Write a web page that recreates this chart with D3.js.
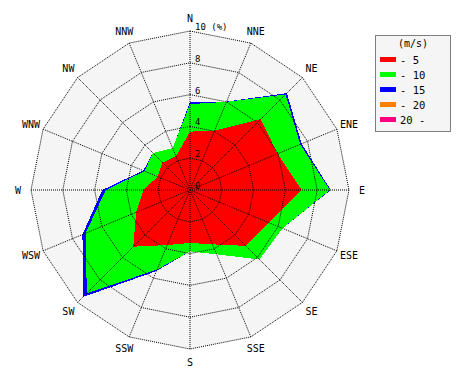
<!DOCTYPE html>
<html>
<head>
<meta charset="utf-8">
<script src="https://cdn.jsdelivr.net/npm/d3@7"></script>
<style>
  body { margin: 0; background: #fff; }
  text { font-family: "DejaVu Sans Mono", monospace; fill: #000; }
</style>
</head>
<body>
<div id="viz"></div>
<script>
/*** data ***/
const directions = ["N","NNE","NE","ENE","E","ESE","SE","SSE","S","SSW","SW","WSW","W","WNW","NW","NNW"];
const speedClasses = ["- 5", "- 10", "- 15", "- 20", "20 -"];
const classColors = ["#ff0000", "#00ff00", "#0000ff", "#ff8000", "#ff0080"];
// frequency (%) per direction, one array per speed class
const s5  = [3.67, 4.05, 6.30, 5.95, 7.02, 5.38, 4.97, 3.70, 3.33, 3.75, 5.04, 3.67, 2.93, 2.20, 2.45, 2.30];
const s10 = [1.73, 1.95, 2.20, 1.55, 1.78, 0.92, 1.21, 0.68, 0.53, 1.67, 4.14, 3.43, 2.37, 0.90, 0.85, 0.55];
const s15 = [0.13, 0.02, 0.12, 0.10, 0.05, 0.00, 0.00, 0.00, 0.00, 0.10, 0.34, 0.22, 0.22, 0.08, 0.00, 0.00];
const s20 = [0, 0, 0, 0, 0, 0, 0, 0, 0, 0, 0, 0, 0, 0, 0, 0];
const s20p = [0, 0, 0, 0, 0, 0, 0, 0, 0, 0, 0, 0, 0, 0, 0, 0];
const ringTicks = [2, 4, 6, 8, 10];

/*** layout ***/
const width = 470, height = 380;
const cx = 190, cy = 190;

const svg = d3.select("#viz").append("svg")
  .attr("width", width)
  .attr("height", height);

const r = d3.scaleLinear().domain([0, 10]).range([0, 159]);
const angle = d3.scaleLinear().domain([0, directions.length]).range([0, 2 * Math.PI]);

const g = svg.append("g").attr("transform", `translate(${cx},${cy})`);

const ring = d3.lineRadial()
  .angle((d, i) => angle(i))
  .radius(d => r(d))
  .curve(d3.curveLinearClosed);

// background
g.append("path")
  .attr("d", ring(directions.map(() => 10)))
  .attr("fill", "#f5f5f5");

// stacked polygons, outermost first
const series = [s5, s10, s15, s20, s20p];
const cum = [];
series.forEach((s, k) => {
  cum.push(s.map((v, i) => v + (k ? cum[k - 1][i] : 0)));
});
for (let k = series.length - 1; k >= 0; k--) {
  g.append("path")
    .attr("d", ring(cum[k]))
    .attr("fill", classColors[k])
    .attr("shape-rendering", "crispEdges");
}

// grid
ringTicks.forEach(t => {
  g.append("path")
    .attr("d", ring(directions.map(() => t)))
    .attr("fill", "none")
    .attr("stroke", "#000")
    .attr("stroke-width", 1)
    .attr("stroke-dasharray", "1,1");
});
directions.forEach((d, i) => {
  const a = angle(i);
  g.append("line")
    .attr("x1", 0).attr("y1", 0)
    .attr("x2", r(10) * Math.sin(a))
    .attr("y2", -r(10) * Math.cos(a))
    .attr("stroke", "#000")
    .attr("stroke-width", 1)
    .attr("stroke-dasharray", "1,1");
});

// ring labels
[0].concat(ringTicks).forEach(t => {
  g.append("text")
    .attr("x", 5)
    .attr("y", -r(t) - 1)
    .attr("font-size", 9)
    .text(t === 10 ? "10 (%)" : t);
});

// direction labels
directions.forEach((d, i) => {
  const a = angle(i);
  g.append("text")
    .attr("x", 172 * Math.sin(a))
    .attr("y", -172 * Math.cos(a))
    .attr("text-anchor", "middle")
    .attr("dominant-baseline", "central")
    .attr("font-size", 10)
    .text(d);
});

// legend
const lg = svg.append("g").attr("transform", "translate(375,35)");
lg.append("rect")
  .attr("x", 0.5).attr("y", 0.5)
  .attr("width", 75).attr("height", 96)
  .attr("fill", "#f5f5f5")
  .attr("stroke", "#000")
  .attr("stroke-dasharray", "1,1");
lg.append("text")
  .attr("x", 38).attr("y", 12)
  .attr("text-anchor", "middle")
  .attr("font-size", 10)
  .text("(m/s)");
speedClasses.forEach((c, i) => {
  lg.append("rect")
    .attr("x", 5).attr("y", 22 + i * 15)
    .attr("width", 16).attr("height", 5)
    .attr("fill", classColors[i]);
  lg.append("text")
    .attr("x", 25).attr("y", 25 + i * 15)
    .attr("dominant-baseline", "central")
    .attr("font-size", 10.5)
    .text(c);
});
</script>
</body>
</html>
